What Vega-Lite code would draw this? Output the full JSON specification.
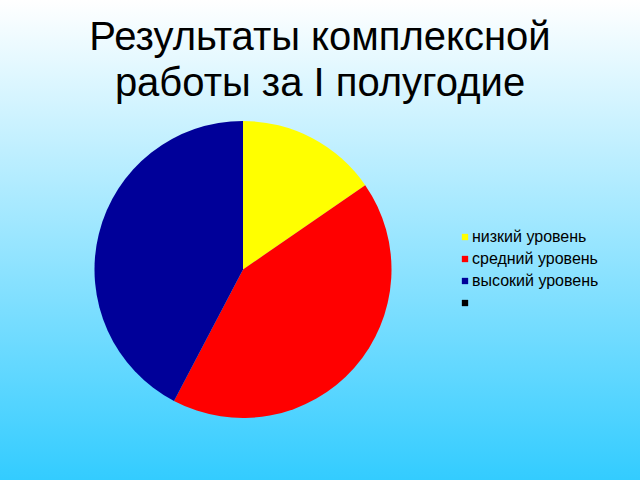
{
  "$schema": "https://vega.github.io/schema/vega-lite/v6.json",
  "autosize": {"type": "none"},
  "width": 794,
  "height": 539,
  "padding": {"left": -154, "top": 0, "right": 0, "bottom": -59},
  "background": "#ffffff",
  "view": {
    "stroke": null,
    "fill": {
      "gradient": "linear",
      "x1": 0, "y1": 0, "x2": 0, "y2": 1,
      "stops": [
        {"offset": 0, "color": "#ffffff"},
        {"offset": 0.89, "color": "#33ccff"},
        {"offset": 1, "color": "#2ec8ff"}
      ]
    }
  },
  "data": {
    "values": [
      {"n": 1, "level": "низкий уровень", "value": 4},
      {"n": 2, "level": "средний уровень", "value": 11},
      {"n": 3, "level": "высокий уровень", "value": 11},
      {"n": 4, "level": " ", "value": 0}
    ]
  },
  "title": {
    "text": ["Результаты комплексной", "работы за I полугодие"],
    "font": "Liberation Sans",
    "fontSize": 40,
    "fontWeight": "normal",
    "color": "black",
    "lineHeight": 46.5,
    "anchor": "middle",
    "frame": "group",
    "offset": -104,
    "dx": 77
  },
  "mark": {"type": "arc", "radius": 148.5},
  "encoding": {
    "theta": {"field": "value", "type": "quantitative", "stack": true},
    "order": {"field": "n", "type": "quantitative"},
    "color": {
      "field": "level",
      "type": "nominal",
      "sort": ["низкий уровень", "средний уровень", "высокий уровень", " "],
      "scale": {
        "domain": ["низкий уровень", "средний уровень", "высокий уровень", " "],
        "range": ["#ffff00", "#ff0000", "#000099", "#000000"]
      },
      "legend": {
        "title": null,
        "orient": "none",
        "legendX": 611,
        "legendY": 229,
        "symbolType": "square",
        "symbolSize": 40,
        "symbolStrokeWidth": 0,
        "symbolOpacity": 1,
        "labelFont": "Liberation Sans",
        "labelFontSize": 16,
        "labelColor": "black",
        "labelOffset": -1,
        "rowPadding": 6
      }
    }
  }
}
